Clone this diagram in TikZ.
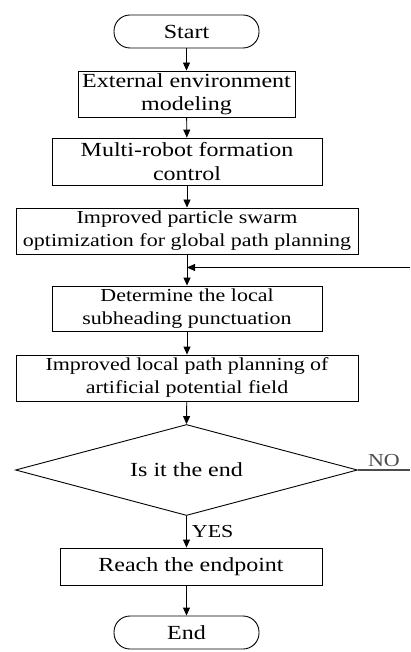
\documentclass[tikz,border=0pt]{standalone}
\usepackage{fontspec}
\setmainfont[FakeStretch=1.2]{Liberation Serif}
\usetikzlibrary{arrows.meta,shapes.geometric}
\begin{document}
\begin{tikzpicture}[x=1pt,y=-1pt,
  line width=0.9pt,
  bigtext/.style={font=\fontsize{20}{23.5}\selectfont},
  smalltext/.style={font=\fontsize{18.3}{23}\selectfont},
  procbox/.style={draw, rectangle, align=center, inner sep=0pt},
  terminal/.style={draw, rectangle, rounded corners=16pt, inner sep=0pt,
    minimum width=145pt, minimum height=33pt, bigtext},
  decision/.style={draw, diamond, aspect=3.76, inner sep=0pt,
    minimum width=342pt, minimum height=91pt, bigtext},
  flow/.style={-{Triangle[length=8pt,width=7pt]}},
  lbl/.style={inner sep=0pt}
]
\useasboundingbox (0,0) rectangle (410,652);

\node[terminal] (start) at (186.5,31.5) {Start};
\node[procbox, bigtext, minimum width=217pt, minimum height=46pt] (ext) at (186.5,94)
  {External environment\\modeling};
\node[procbox, bigtext, minimum width=270pt, minimum height=47pt] (multi) at (187,161.5)
  {Multi-robot formation\\control};
\node[procbox, smalltext, minimum width=342pt, minimum height=46pt] (pso) at (187,231)
  {Improved particle swarm\\optimization for global path planning};
\node[procbox, smalltext, minimum width=270pt, minimum height=45pt] (det) at (187,308.5)
  {Determine the local\\subheading punctuation};
\node[procbox, smalltext, minimum width=342pt, minimum height=46pt] (apf) at (187,378)
  {Improved local path planning of\\artificial potential field};
\node[decision] (dec) at (186.5,470) {Is it the end};
\node[procbox, bigtext, minimum width=262pt, minimum height=37pt] (reach) at (191,566.5)
  {Reach the endpoint};
\node[terminal] (stop) at (186.5,632.5) {End};

\coordinate (loopin) at (pso.south |- 0,267.5);
\coordinate (loopedge) at (410,267.5);
\coordinate (noedge) at (410,470);

\draw[flow] (start) -- (ext);
\draw[flow] (ext) -- (multi);
\draw[flow] (multi) -- (pso);
\draw[flow] (pso) -- (det);
\draw[flow] (loopedge) -- (loopin);
\draw[flow] (det) -- (apf);
\draw[flow] (apf) -- (dec.north);
\draw[flow] (dec.south) -- (dec.south |- reach.north)
  node[lbl, smalltext, anchor=west, pos=0.5, xshift=5pt] {YES};
\draw[flow] (reach.south -| stop.north) -- (stop.north);
\draw[black!70, line width=1.1pt] (dec.east) -- (noedge)
  node[lbl, smalltext, anchor=south, pos=0.5, yshift=3pt] {NO};
\end{tikzpicture}
\end{document}
